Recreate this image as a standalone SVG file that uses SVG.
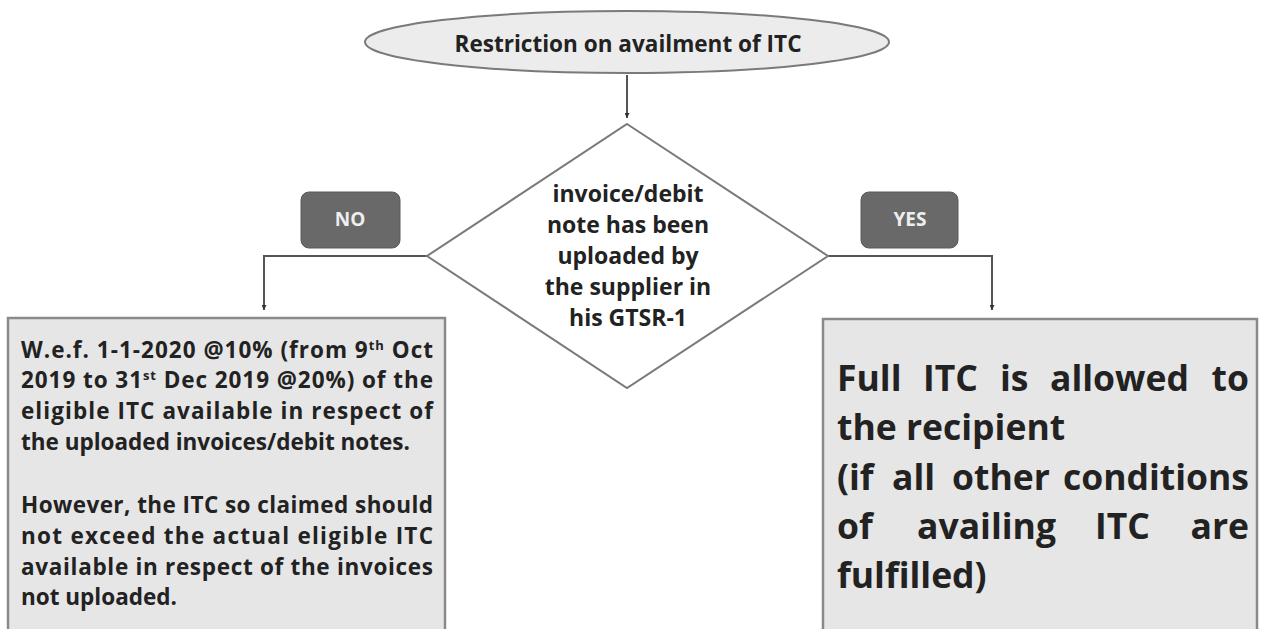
<svg xmlns="http://www.w3.org/2000/svg" width="1261" height="629" viewBox="0 0 1261 629">
<style>
text{font-family:"Open Sans","Noto Sans","Liberation Sans",sans-serif;font-weight:bold;fill:#222}
.conn{fill:none;stroke:#555;stroke-width:2}
.box{fill:#e6e6e6;stroke:#8a8a8a;stroke-width:2.5}
.tag{fill:#696969;stroke:#5a5a5a;stroke-width:1}
.tagt{fill:#eeeeee;font-size:19px;text-anchor:middle}
.lt{font-size:22.5px}
.rt{font-size:35.5px}
.re{font-size:35.5px;text-anchor:end}
.dt{font-size:23px;text-anchor:middle}
</style>
<defs>
<marker id="ah" viewBox="0 0 10 10" refX="10" refY="5" markerWidth="5" markerHeight="5" orient="auto" markerUnits="userSpaceOnUse">
<path d="M0,0 L10,5 L0,10 z" fill="#333"/>
</marker>
</defs>
<rect width="1261" height="629" fill="#ffffff"/>
<g id="connectors">
<path class="conn" d="M627,75 L627,118" marker-end="url(#ah)"/>
<path class="conn" d="M427,256 L264,256 L264,310" marker-end="url(#ah)"/>
<path class="conn" d="M828,256 L992,256 L992,310" marker-end="url(#ah)"/>
</g>
<g id="start">
<ellipse cx="627" cy="42" rx="262" ry="31" fill="#ececec" stroke="#7a7a7a" stroke-width="2"/>
<text x="628" y="52" font-size="22.5" text-anchor="middle" textLength="347" lengthAdjust="spacingAndGlyphs">Restriction on availment of ITC</text>
</g>
<g id="decision">
<polygon points="627,124 828,256 627,388 427,256" fill="#ffffff" stroke="#7a7a7a" stroke-width="2"/>
<text class="dt" x="628" y="202">invoice/debit</text>
<text class="dt" x="628" y="233">note has been</text>
<text class="dt" x="628" y="264">uploaded by</text>
<text class="dt" x="628" y="295">the supplier in</text>
<text class="dt" x="628" y="326">his GTSR-1</text>
</g>
<g id="no-label">
<rect class="tag" x="301" y="192" width="99" height="56" rx="8"/>
<text class="tagt" x="350" y="226">NO</text>
</g>
<g id="yes-label">
<rect class="tag" x="861" y="192" width="97" height="56" rx="8"/>
<text class="tagt" x="910" y="226">YES</text>
</g>
<g id="no-box">
<rect class="box" x="8" y="318" width="437" height="320"/>
<text class="lt" x="21" y="358" textLength="412" lengthAdjust="spacing">W.e.f. 1-1-2020 @10% (from 9<tspan dy="-8" font-size="13">th</tspan><tspan dy="8"> Oct</tspan></text>
<text class="lt" x="21" y="388" textLength="412" lengthAdjust="spacing">2019 to 31<tspan dy="-8" font-size="13">st</tspan><tspan dy="8"> Dec 2019 @20%) of the</tspan></text>
<text class="lt" x="21" y="419" textLength="412" lengthAdjust="spacing">eligible ITC available in respect of</text>
<text class="lt" x="21" y="450">the uploaded invoices/debit notes.</text>
<text class="lt" x="21" y="513" textLength="412" lengthAdjust="spacing">However, the ITC so claimed should</text>
<text class="lt" x="21" y="544" textLength="412" lengthAdjust="spacing">not exceed the actual eligible ITC</text>
<text class="lt" x="21" y="575" textLength="412" lengthAdjust="spacing">available in respect of the invoices</text>
<text class="lt" x="21" y="605">not uploaded.</text>
</g>
<g id="yes-box">
<rect class="box" x="823" y="319" width="434" height="320"/>
<text class="rt" y="391"><tspan x="837">Full</tspan><tspan x="923">ITC</tspan><tspan x="1000">is</tspan><tspan x="1050">allowed</tspan></text>
<text class="re" x="1249" y="391">to</text>
<text class="rt" x="837" y="440">the recipient</text>
<text class="rt" y="490"><tspan x="837">(if</tspan><tspan x="892">all</tspan><tspan x="952">other</tspan></text>
<text class="re" x="1249" y="490">conditions</text>
<text class="rt" y="539"><tspan x="837">of</tspan><tspan x="917">availing</tspan><tspan x="1095">ITC</tspan></text>
<text class="re" x="1249" y="539">are</text>
<text class="rt" x="837" y="588">fulfilled)</text>
</g>
</svg>
